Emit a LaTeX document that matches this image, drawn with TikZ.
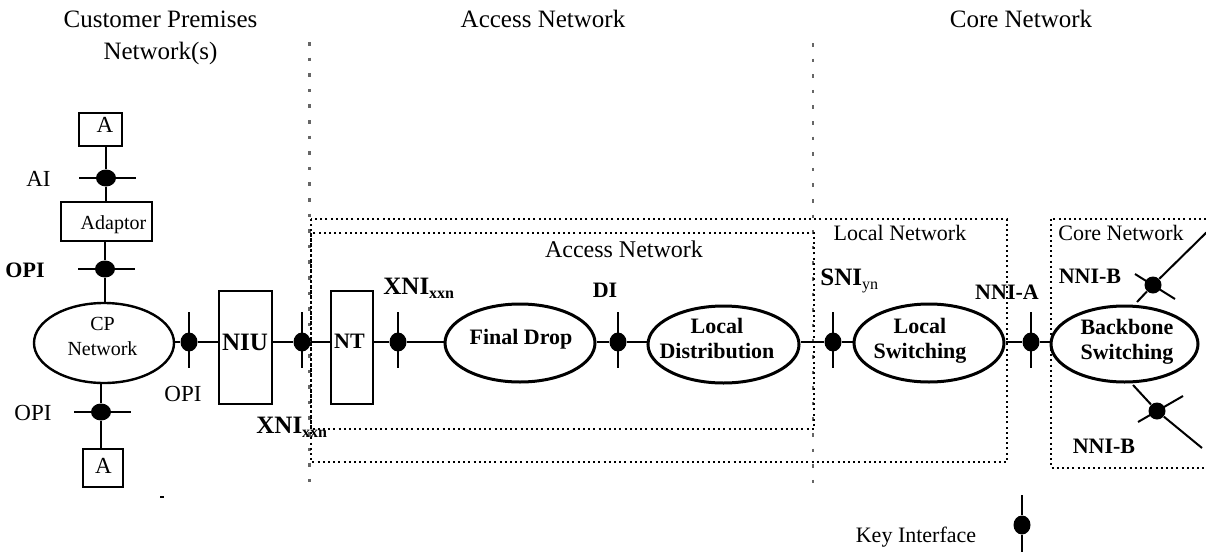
\documentclass[tikz,border=0pt]{standalone}
\usepackage{fontspec}
\setmainfont{Liberation Serif}
\usetikzlibrary{shapes.geometric}
\begin{document}
\begin{tikzpicture}[x=0.5pt,y=-0.5pt,
  ln/.style={line width=1pt},
  boxn/.style={draw,line width=1pt,inner sep=0pt},
  ell/.style={draw,ellipse,inner sep=0pt,line width=1.5pt},
  vdot/.style={fill=black,ellipse,inner sep=0pt,minimum width=8.5pt,minimum height=9.5pt},
  hdot/.style={fill=black,ellipse,inner sep=0pt,minimum width=10pt,minimum height=8.5pt},
  rdot/.style={fill=black,circle,inner sep=0pt,minimum size=8.5pt},
  dotbox/.style={line width=0.9pt,dash pattern=on 1pt off 1.6pt},
  sepline/.style={draw=black!60,line width=1.3pt,dash pattern=on 1.8pt off 6pt},
  lbl/.style={inner sep=0pt,anchor=base,align=center},
  big/.style={font=\fontsize{12.5}{16}\selectfont},
  mid/.style={font=\fontsize{11.5}{13}\selectfont},
  sml/.style={font=\fontsize{10}{12.5}\selectfont},
  bmid/.style={font=\fontsize{11}{12.5}\selectfont\bfseries},
  bbig/.style={font=\fontsize{12.5}{14}\selectfont\bfseries},
]
\useasboundingbox (0,0) rectangle (1206,552);

% region headers
\node[lbl,big] (hcp) at (160.5,59) {Customer Premises\\Network(s)};
\node[lbl,big] (han) at (543,27) {Access Network};
\node[lbl,big] (hcn) at (1021,27) {Core Network};

% separators
\coordinate (v1t) at (309.5,42);
\coordinate (v1b) at (309.5,492);
\coordinate (v2t) at (813,43);
\coordinate (v2b) at (813,488);
\draw[sepline] (v1t) -- (v1b);
\draw[sepline] (v2t) -- (v2b);

% dotted boxes
\draw[dotbox] (311,219) rectangle (1007,462);
\draw[dotbox] (311,233) rectangle (814,429);
\draw[dotbox] (1051,219) rectangle (1215,468);
\node[lbl,font=\fontsize{12}{14}\selectfont] (lan) at (624,257) {Access Network};
\node[lbl,font=\fontsize{11}{13}\selectfont] (lln) at (900,240) {Local Network};
\node[lbl,font=\fontsize{11}{13}\selectfont] (lcn) at (1121,240) {Core Network};

% customer premises side
\node[boxn,minimum width=21.5pt,minimum height=16.5pt] (A1) at (100.5,129.5) {};
\node[lbl,mid] (A1t) at (105,132) {A};
\node[hdot] (dAI) at (106,178) {};
\node[boxn,minimum width=45.5pt,minimum height=19.5pt] (Ad) at (106.5,221.5) {};
\node[lbl,sml] (Adt) at (113.5,229) {Adaptor};
\node[hdot] (dOPI) at (105,269) {};
\node[draw,ellipse,inner sep=0pt,line width=1.2pt,minimum width=70pt,minimum height=40pt] (CP) at (104,343) {};
\node[lbl,sml] (CPt) at (102.5,355) {CP\\Network};
\node[hdot] (dOPI2) at (101,412) {};
\node[boxn,minimum width=20pt,minimum height=19pt] (A2) at (103,468) {};
\node[lbl,mid] (A2t) at (103.5,473) {A};

\node[lbl,mid] (lAI) at (38.5,186) {AI};
\node[lbl,font=\fontsize{11}{13}\selectfont\bfseries] (lOPI) at (25,277) {OPI};
\node[lbl,mid] (lOPI2) at (33,420) {OPI};
\node[lbl,mid] (lOPI3) at (183,401) {OPI};

\draw[ln] (dAI) ++(-27,0) -- ++(57,0);
\draw[ln] (dOPI) ++(-27,0) -- ++(57,0);
\draw[ln] (dOPI2) ++(-27,0) -- ++(57,0);
\draw[ln] (dAI |- A1.south) -- (dAI) -- (dAI |- Ad.north);
\draw[ln] (dOPI |- Ad.south) -- (dOPI) -- (dOPI |- CP.north);
\draw[ln] (dOPI2 |- CP.south) -- (dOPI2) -- (dOPI2 |- A2.north);

% main chain
\node[vdot] (d1) at (189,342) {};
\node[boxn,minimum width=26.5pt,minimum height=56.5pt] (NIU) at (245.5,347.5) {};
\node[lbl,bbig] (NIUt) at (245,350) {NIU};
\node[vdot] (d2) at (302,342) {};
\node[boxn,minimum width=21pt,minimum height=56.5pt] (NT) at (351.5,347.5) {};
\node[lbl,bmid] (NTt) at (349.5,348) {NT};
\node[vdot] (d3) at (398,342) {};
\node[ell,minimum width=75pt,minimum height=39pt] (FD) at (520,343) {};
\node[lbl,bmid] (FDt) at (521,344) {Final Drop};
\node[vdot] (dDI) at (618,342) {};
\node[ell,minimum width=75.5pt,minimum height=38.5pt] (LD) at (723.5,344.5) {};
\node[lbl,bmid] (LDt) at (717,358) {Local\\Distribution};
\node[vdot] (dSNI) at (833,342) {};
\node[ell,minimum width=75pt,minimum height=39pt] (LS) at (929,343) {};
\node[lbl,bmid] (LSt) at (920,358) {Local\\Switching};
\node[vdot] (dNA) at (1031,342) {};
\node[ell,minimum width=73.5pt,minimum height=38pt] (BB) at (1124.5,344) {};
\node[lbl,bmid] (BBt) at (1127,359) {Backbone\\Switching};

\foreach \d in {d1,d2,d3,dDI,dSNI,dNA} {\draw[ln] (\d) ++(0,-30) -- ++(0,56);}
\draw[ln] (CP.east |- d1) -- (d1) -- (d1 -| NIU.west);
\draw[ln] (NIU.east |- d2) -- (d2) -- (d2 -| NT.west);
\draw[ln] (NT.east |- d3) -- (d3) -- (d3 -| FD.west);
\draw[ln] (FD.east |- dDI) -- (dDI) -- (dDI -| LD.west);
\draw[ln] (LD.east |- dSNI) -- (dSNI) -- (dSNI -| LS.west);
\draw[ln] (LS.east |- dNA) -- (dNA) -- (dNA -| BB.west);

% interface labels
\node[lbl,anchor=base west,bbig] (lX1) at (256,433) {XNI\raisebox{-2pt}{\fontsize{8}{9}\selectfont xxn}};
\node[lbl,anchor=base west,bbig] (lX2) at (383,294) {XNI\raisebox{-2pt}{\fontsize{8}{9}\selectfont xxn}};
\node[lbl,bmid] (lDI) at (605,297) {DI};
\node[lbl,anchor=base west,bbig] (lSNI) at (820,285) {SNI\raisebox{-2pt}{\fontsize{8}{9}\mdseries\selectfont yn}};
\node[lbl,bmid] (lNA) at (1007,299) {NNI-A};

% NNI-B interfaces
\node[rdot] (dB1) at (1153,285) {};
\coordinate (b1s) at (1137,302);
\coordinate (b1e) at (1212,227);
\draw[ln] (b1s) -- (dB1) -- (b1e);
\draw[ln] (dB1) ++(-18,-11) -- ++(40,25);
\node[lbl,bmid] (lB1) at (1090,283) {NNI-B};
\node[rdot] (dB2) at (1157,411) {};
\coordinate (b2s) at (1133,385);
\coordinate (b2e) at (1202,448);
\draw[ln] (b2s) -- (dB2) -- (b2e);
\draw[ln] (dB2) ++(-19,11) -- ++(45,-26);
\node[lbl,bmid] (lB2) at (1104,453) {NNI-B};

% key
\node[vdot] (dK) at (1022,525) {};
\coordinate (kt) at (1022,495);
\coordinate (kb) at (1022,556);
\draw[ln] (kt) -- (dK) -- (kb);
\node[lbl,font=\fontsize{11}{13}\selectfont] (lK) at (916,542) {Key Interface};

% stray mark
\coordinate (m1) at (160,497);
\coordinate (m2) at (164,497);
\draw[line width=1pt] (m1) -- (m2);
\end{tikzpicture}
\end{document}
